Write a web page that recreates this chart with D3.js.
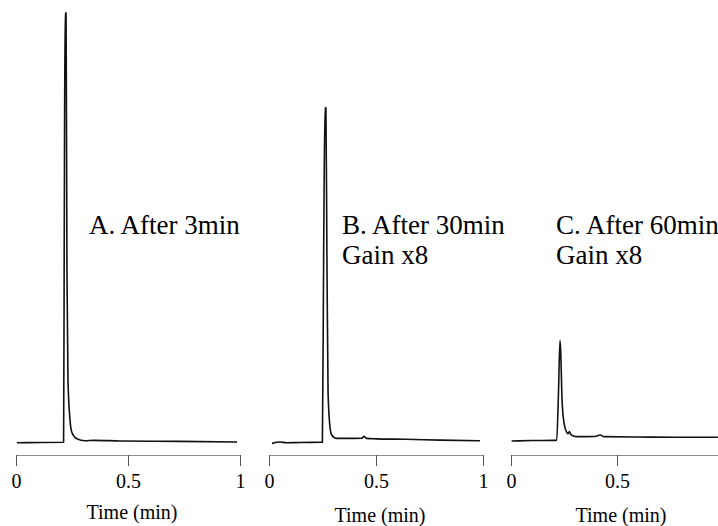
<!DOCTYPE html>
<html>
<head>
<meta charset="utf-8">
<script src="https://cdn.jsdelivr.net/npm/d3@7"></script>
<style>
  body { margin: 0; background: #fff; }
  svg { display: block; }
</style>
</head>
<body>
<svg id="chart" width="718" height="526"></svg>
<script>
// time (min), detector signal (arb. units, same gain scale for all traces)
var traceA = [[0.004,0.3],[0.107,0.35],[0.2125,0.4],[0.2155,50],[0.219,100],[0.2235,100],[0.2275,40],[0.232,15],[0.241,5.6],[0.25,2.6],[0.272,1.2],[0.308,0.75],[0.35,0.85],[0.464,0.7],[0.732,0.6],[0.987,0.45]];
var traceB = [[0.014,0.15],[0.051,0.45],[0.08,0.3],[0.145,0.35],[0.2495,0.4],[0.2555,45],[0.2615,78],[0.266,78],[0.2705,45],[0.276,12],[0.285,3.9],[0.293,2.1],[0.316,1.3],[0.355,1.3],[0.435,1.35],[0.444,1.8],[0.455,1.3],[0.5,1.2],[0.636,1.1],[0.8,0.9],[0.986,0.75]];
var traceC = [[0.003,0.7],[0.104,0.8],[0.2,0.85],[0.2155,0.9],[0.224,12],[0.231,24],[0.234,22],[0.241,10],[0.25,4.9],[0.262,2.8],[0.27,2.4],[0.275,2.9],[0.283,2.2],[0.31,1.7],[0.396,1.75],[0.42,2.1],[0.439,1.7],[0.656,1.6],[0.976,1.55]];

var ticksAB = [0, 0.5, 1];
var ticksC = [0, 0.5];
var labelsA = ["A. After 3min"];
var labelsB = ["B. After 30min", "Gain x8"];
var labelsC = ["C. After 60min", "Gain x8"];
var xTitle = "Time (min)";

var serif = '"Liberation Serif", "Times New Roman", "DejaVu Serif", serif';
var svg = d3.select("#chart");

var y = d3.scaleLinear().domain([0, 100]).range([444, 13]);
var axisY = 455;

var panels = [
  {data: traceA, ticks: ticksAB, labels: labelsA, x0: 16, x1: 240, lx: 89, titleY: 519},
  {data: traceB, ticks: ticksAB, labels: labelsB, x0: 269, x1: 483, lx: 342, titleY: 522},
  {data: traceC, ticks: ticksC, labels: labelsC, x0: 511, x1: 723, lx: 556, titleY: 522}
];

panels.forEach(function(p) {
  var x = d3.scaleLinear().domain([0, 1]).range([p.x0, p.x1]);
  var g = svg.append("g");

  var axis = d3.axisBottom(x)
    .tickValues(p.ticks)
    .tickFormat(function(d) { return d; })
    .tickSize(11)
    .tickSizeOuter(0)
    .tickPadding(8);
  var ax = g.append("g")
    .attr("transform", "translate(0," + axisY + ")")
    .call(axis);
  ax.attr("font-family", null).attr("font-size", null);
  ax.select(".domain").attr("stroke", "#8a8a8a").attr("stroke-width", 1);
  ax.selectAll(".tick line").attr("stroke", "#555").attr("stroke-width", 1);
  ax.selectAll(".tick text")
    .style("font-family", serif)
    .style("font-size", "20px")
    .attr("fill", "#000");

  var line = d3.line()
    .x(function(d) { return x(d[0]); })
    .y(function(d) { return y(d[1]); })
    .curve(d3.curveMonotoneX);
  g.append("path")
    .datum(p.data)
    .attr("d", line)
    .attr("fill", "none")
    .attr("stroke", "#111")
    .attr("stroke-width", 1.6)
    .attr("stroke-linejoin", "round");

  p.labels.forEach(function(s, i) {
    g.append("text")
      .attr("x", p.lx)
      .attr("y", 234 + i * 30)
      .style("font-family", serif)
      .style("font-size", "27px")
      .text(s);
  });

  g.append("text")
    .attr("x", p.x0 + (x(1) - x(0)) / 2 + 4)
    .attr("y", p.titleY)
    .attr("text-anchor", "middle")
    .style("font-family", serif)
    .style("font-size", "20px")
    .text(xTitle);
});
</script>
</body>
</html>
